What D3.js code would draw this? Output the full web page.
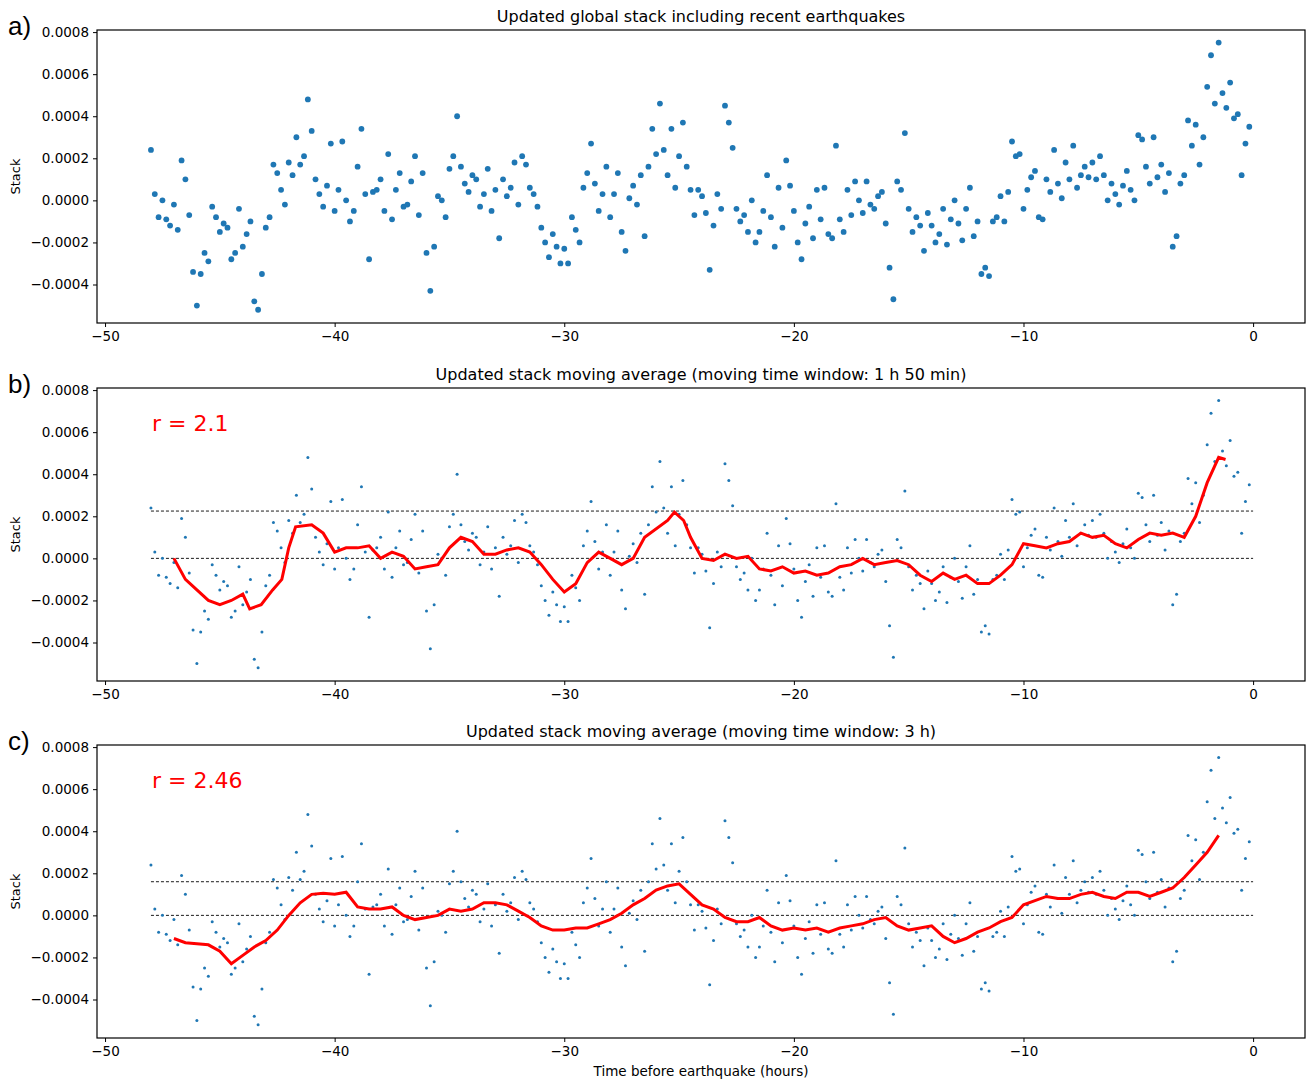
<!DOCTYPE html>
<html><head><meta charset="utf-8">
<script src="https://cdn.jsdelivr.net/npm/d3@7"></script>
<style>body{margin:0;background:#fff}svg{font-family:"DejaVu Sans",sans-serif}</style>
</head><body>
<script>
// stack values (units of 1e-4), 10 min steps from -48 h
var stackVals = [
 2.4,0.3,-0.8,0.0,-0.9,-1.2, -0.2,-1.4,1.9,1.0,-0.7,-3.4, -5.0,-3.5,-2.5,-2.9,-0.3,-0.8,
 -1.5,-1.1,-1.3,-2.8,-2.5,-0.4, -2.2,-1.6,-1.0,-4.8,-5.2,-3.5, -1.3,-0.8,1.7,1.3,0.5,-0.2,
 1.8,1.2,3.0,1.7,2.1,4.8, 3.3,1.0,0.3,-0.3,0.7,2.7, -0.5,0.5,2.8,0.0,-1.0,-0.5,
 1.6,3.4,0.3,-2.8,0.4,0.5, 1.0,-0.5,2.2,-0.9,0.5,1.3, -0.3,-0.2,0.9,2.1,-0.7,1.3,
 -2.5,-4.3,-2.2,0.2,0.0,-0.8, 1.5,2.1,4.0,1.6,0.8,0.4, 1.2,1.0,-0.3,0.3,1.5,-0.5,
 0.5,-1.8,1.0,0.2,0.6,1.8, -0.2,2.1,1.7,0.6,0.3,-0.3, -1.3,-2.0,-2.7,-1.6,-2.2,-3.0,
 -2.3,-3.0,-0.8,-1.4,-2.0,0.6, 1.3,2.7,0.8,-0.5,0.3,1.6, -0.8,0.3,1.3,-1.5,-2.4,0.1,
 0.7,-0.2,1.2,-1.7,1.6,3.4, 2.2,4.6,2.4,1.2,3.4,0.6, 2.1,3.7,1.6,0.5,-0.7,0.5,
 0.2,-0.6,-3.3,-1.2,0.3,-0.4, 4.5,3.7,2.5,-0.4,-1.0,-0.7, -1.5,0.0,-2.0,-1.5,-0.5,1.2,
 -0.8,-2.2,0.6,-1.3,1.9,0.7, -0.5,-2.0,-2.8,-1.1,-0.3,-1.8, 0.5,-0.9,0.6,-1.6,-1.8,2.6,
 -0.9,-1.5,0.5,-0.7,0.9,0.0, -0.6,0.9,-0.2,-0.4,0.2,0.4, -1.1,-3.2,-4.7,0.9,0.5,3.2,
 -0.4,-1.5,-0.8,-1.2,-2.4,-0.6, -1.2,-2.0,-1.6,-0.4,-2.1,-0.9, 0.0,-1.1,-1.9,-0.4,0.6,-1.7,
 -1.0,-3.5,-3.2,-3.6,-1.0,-0.8, 0.2,-1.0,0.4,2.8,2.1,2.2, -0.4,0.5,1.1,1.4,-0.8,-0.9,
 1.0,0.4,2.4,0.8,0.1,1.8, 1.0,2.6,0.6,1.2,1.6,1.1, 1.8,1.0,2.1,1.2,0.0,0.8,
 0.3,-0.2,0.7,1.4,0.5,0.0, 3.1,2.9,1.6,0.8,3.0,1.1, 1.7,0.4,1.3,-2.2,-1.7,0.8,
 1.2,3.8,2.6,3.6,1.7,3.0, 5.4,6.9,4.6,7.5,5.1,4.4, 5.6,3.9,4.1,1.2,2.7,3.5
];
var stackTimes = stackVals.map(function(v, i) { return -48 + i / 6; });

var maBTimes = [-47,-46.5,-46,-45.5,-45,-44.5,-44,-43.7,-43.2,-42.7,-42.3,-42,-41.7,-41,-40.5,-40,-39.5,-39,-38.5,-38,-37.5,-37,-36.5,-36,-35.5,-35,-34.5,-34,-33.5,-33,-32.5,-32,-31.5,-31,-30.5,-30,-29.5,-29,-28.5,-28,-27.5,-27,-26.5,-25.5,-25.2,-24.8,-24.5,-24,-23.5,-23,-22.5,-22,-21.5,-21,-20.5,-20,-19.5,-19,-18.5,-18,-17.5,-17,-16.5,-16,-15.5,-15,-14.5,-14,-13.5,-13,-12.5,-12,-11.5,-11,-10.5,-10,-9.5,-9,-8.5,-8,-7.5,-7,-6.5,-6,-5.5,-5,-4.5,-4,-3.5,-3,-2.5,-2,-1.5,-1.2];
var maBVals = [0,-1,-1.5,-2,-2.2,-2,-1.7,-2.4,-2.2,-1.5,-1,0.5,1.5,1.6,1.2,0.3,0.5,0.5,0.6,0,0.3,0.1,-0.5,-0.4,-0.3,0.5,1,0.8,0.2,0.2,0.4,0.5,0.3,-0.3,-1,-1.6,-1.2,-0.2,0.3,0,-0.3,0,1,1.8,2.2,1.8,1,0,-0.1,0.2,0,0.1,-0.5,-0.6,-0.4,-0.7,-0.6,-0.8,-0.7,-0.4,-0.3,0,-0.3,-0.2,-0.1,-0.3,-0.8,-1.1,-0.7,-1,-0.8,-1.2,-1.2,-0.8,-0.3,0.7,0.6,0.5,0.7,0.8,1.2,1,1.1,0.7,0.5,0.9,1.2,1.1,1.2,1,2,3.6,4.8,4.7];

var maCTimes = d3.range(-47, -1.4, 0.5);
var maCVals = [-1.1,-1.3,-1.35,-1.4,-1.7,-2.3,-1.9,-1.5,-1.2,-0.7,0,0.6,1,1.05,1,1.1,0.4,0.3,0.3,0.4,0,-0.2,-0.1,0,0.3,0.2,0.3,0.6,0.6,0.5,0.2,-0.1,-0.5,-0.7,-0.7,-0.6,-0.6,-0.4,-0.2,0.1,0.5,0.8,1.2,1.4,1.5,1,0.5,0.3,-0.1,-0.3,-0.3,-0.1,-0.5,-0.7,-0.6,-0.7,-0.6,-0.8,-0.6,-0.5,-0.4,-0.2,-0.1,-0.5,-0.7,-0.6,-0.5,-1,-1.3,-1.1,-0.8,-0.6,-0.3,-0.1,0.5,0.7,0.9,0.8,0.8,1,1.1,0.9,0.8,1.1,1.1,0.9,1.1,1.3,1.8,2.4,3,3.8];

var yTicks = [-0.0004, -0.0002, 0, 0.0002, 0.0004, 0.0006, 0.0008];
var xTicks = [-50, -40, -30, -20, -10, 0];

var panels = [
  {label: "a)", title: "Updated global stack including recent earthquakes", top: 30, r: 2.9},
  {label: "b)", title: "Updated stack moving average (moving time window: 1 h 50 min)", top: 388, r: 1.5,
   maT: maBTimes, maV: maBVals, thr: 0.000225, rText: "r = 2.1"},
  {label: "c)", title: "Updated stack moving average (moving time window: 3 h)", top: 745, r: 1.5,
   maT: maCTimes, maV: maCVals, thr: 0.00016, rText: "r = 2.46"}
];

var W = 1309, H = 1082, left = 97, right = 1305, ph = 293;
var svg = d3.select("body").append("svg").attr("width", W).attr("height", H);
var x = d3.scaleLinear().domain([-50.35, 2.26]).range([left, right]);
var minus = function(s) { return s.replace("-", "\u2212"); };

panels.forEach(function(p) {
  var y = d3.scaleLinear().domain([-0.000583, 0.00081]).range([p.top + ph, p.top]);
  var g = svg.append("g");

  g.append("g").attr("transform", "translate(0," + (p.top + ph) + ")")
    .call(d3.axisBottom(x).tickValues(xTicks).tickSize(4).tickPadding(4).tickFormat(function(d) { return minus(String(d)); }))
    .call(function(a) { a.select(".domain").remove(); a.selectAll("text").attr("font-size", 13.5).attr("font-family", "DejaVu Sans"); });
  g.append("g").attr("transform", "translate(" + left + ",0)")
    .call(d3.axisLeft(y).tickValues(yTicks).tickSize(4).tickPadding(4).tickFormat(function(d) { return minus(d.toFixed(4)); }))
    .call(function(a) { a.select(".domain").remove(); a.selectAll("text").attr("font-size", 13.5).attr("font-family", "DejaVu Sans"); });

  if (p.maT) {
    [0, p.thr].forEach(function(v) {
      g.append("line").attr("x1", x(-48)).attr("x2", x(0)).attr("y1", y(v)).attr("y2", y(v))
        .attr("stroke", "#000").attr("stroke-width", 0.9).attr("stroke-dasharray", "3,2");
    });
  }

  g.selectAll("circle").data(stackVals).enter().append("circle")
    .attr("cx", function(d, i) { return x(stackTimes[i]); })
    .attr("cy", function(d) { return y(d * 1e-4); })
    .attr("r", p.r).attr("fill", "#1f77b4");

  if (p.maT) {
    var line = d3.line().x(function(d, i) { return x(p.maT[i]); }).y(function(d) { return y(d * 1e-4); }).curve(d3.curveLinear);
    g.append("path").datum(p.maV).attr("d", line).attr("fill", "none").attr("stroke", "red").attr("stroke-width", 3);
    g.append("text").attr("x", 152).attr("y", p.top + 43).attr("fill", "red").attr("font-size", 22).text(p.rText);
  }

  g.append("rect").attr("x", left).attr("y", p.top).attr("width", right - left).attr("height", ph)
    .attr("fill", "none").attr("stroke", "#000").attr("stroke-width", 1.2);
  g.append("text").attr("x", (left + right) / 2).attr("y", p.top - 8).attr("text-anchor", "middle").attr("font-size", 16).text(p.title);
  g.append("text").attr("x", 8).attr("y", p.top + 5).attr("font-family", "Arial, Liberation Sans").attr("font-size", 26).text(p.label);
  g.append("text").attr("transform", "translate(20," + (p.top + ph / 2) + ") rotate(-90)")
    .attr("text-anchor", "middle").attr("font-size", 13).text("Stack");
});

svg.append("text").attr("x", (left + right) / 2).attr("y", 1076).attr("text-anchor", "middle").attr("font-size", 13.5).text("Time before earthquake (hours)");
</script>
</body></html>
